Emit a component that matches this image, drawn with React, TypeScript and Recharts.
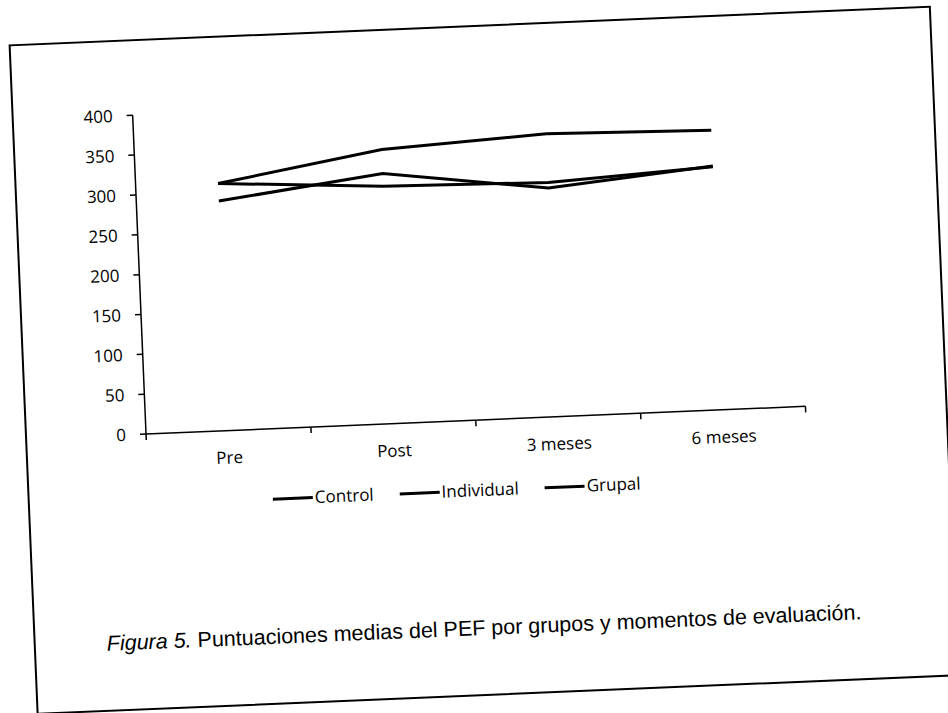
import { LineChart, Line, XAxis, YAxis } from 'recharts';

const categories = ['Pre', 'Post', '3 meses', '6 meses'];
const control = [310, 298, 294, 305];
const individual = [288, 314, 287, 306];
const grupal = [310, 344, 355, 351];
const yTicks = [0, 50, 100, 150, 200, 250, 300, 350, 400];
// ticks at whole numbers are the marks between categories, halves carry the labels
const xTicks = [0, 0.5, 1, 1.5, 2, 2.5, 3, 3.5, 4];

const series = [
  { key: 'control', name: 'Control', color: '#000' },
  { key: 'individual', name: 'Individual', color: '#000' },
  { key: 'grupal', name: 'Grupal', color: '#000' },
];

const data = categories.map((cat, i) => ({
  x: i + 0.5,
  cat,
  control: control[i],
  individual: individual[i],
  grupal: grupal[i],
}));

const chartFont = '"Open Sans", sans-serif';

const CategoryTick = ({ x, y, payload }: any) => {
  const v = payload.value;
  if (Number.isInteger(v)) {
    return <line x1={x} y1={y} x2={x} y2={y + 6} stroke="#000" strokeWidth={1.5} />;
  }
  return (
    <text x={x} y={y + 33} textAnchor="middle" fontSize={17} fontFamily={chartFont} fill="#000">
      {categories[Math.floor(v)]}
    </text>
  );
};

export default function App() {
  return (
    <div
      style={{
        position: 'absolute',
        left: 0,
        top: 0,
        width: 948,
        height: 713,
        transformOrigin: '146px 433.5px',
        transform: 'rotate(-2.4deg)',
        background: '#fff',
      }}
    >
      <div
        style={{
          position: 'absolute',
          left: 25,
          top: 39,
          width: 923,
          height: 671,
          border: '2px solid #000',
          boxSizing: 'border-box',
        }}
      />
      <div style={{ position: 'absolute', left: 0, top: 0 }}>
        <LineChart width={948} height={470} data={data} margin={{ top: 115, right: 142, bottom: 6, left: 86 }}>
          <XAxis
            dataKey="x"
            type="number"
            domain={[0, 4]}
            ticks={xTicks}
            interval={0}
            height={30}
            tickSize={0}
            tickMargin={0}
            tickLine={false}
            tick={<CategoryTick />}
            axisLine={{ stroke: '#000', strokeWidth: 1.5 }}
          />
          <YAxis
            domain={[0, 400]}
            ticks={yTicks}
            width={60}
            tickSize={6}
            tickMargin={14}
            tick={{ fill: '#000', fontSize: 17, fontFamily: chartFont }}
            tickLine={{ stroke: '#000', strokeWidth: 1.5 }}
            axisLine={{ stroke: '#000', strokeWidth: 1.5 }}
          />
          {series.map((s) => (
            <Line
              key={s.key}
              type="linear"
              dataKey={s.key}
              name={s.name}
              stroke={s.color}
              strokeWidth={3}
              dot={false}
              isAnimationActive={false}
            />
          ))}
        </LineChart>
      </div>
      <div
        style={{
          position: 'absolute',
          left: 270,
          top: 492,
          display: 'flex',
          gap: 26,
          fontFamily: chartFont,
          fontSize: 17,
          lineHeight: '24px',
          color: '#000',
        }}
      >
        {series.map((s) => (
          <div key={s.key} style={{ display: 'flex', alignItems: 'center' }}>
            <span style={{ display: 'inline-block', width: 40, height: 3, background: s.color, marginRight: 2 }} />
            <span>{s.name}</span>
          </div>
        ))}
      </div>
      <div
        style={{
          position: 'absolute',
          left: 98,
          top: 629,
          fontFamily: '"Liberation Sans", Arial, sans-serif',
          fontSize: 21.5,
          lineHeight: '26px',
          whiteSpace: 'nowrap',
          color: '#000',
        }}
      >
        <i>Figura 5.</i> Puntuaciones medias del PEF por grupos y momentos de evaluación.
      </div>
    </div>
  );
}
